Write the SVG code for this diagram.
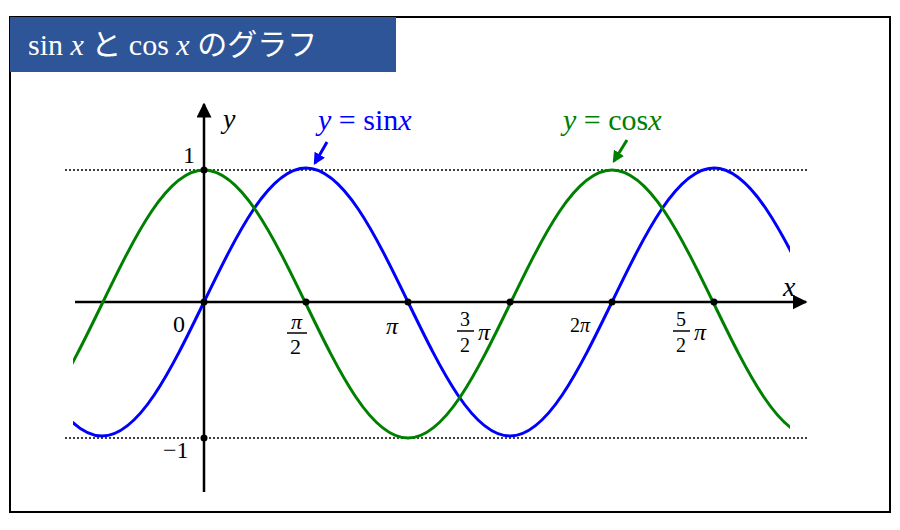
<svg xmlns="http://www.w3.org/2000/svg" width="900" height="530" viewBox="0 0 900 530">
<defs>
<style>
.t{font-family:"Liberation Serif","Noto Sans CJK JP",serif;}
.i{font-style:italic}
.ax{stroke:#000;stroke-width:2.5;fill:none}
.dot{stroke:#000;stroke-width:1.3;stroke-dasharray:2,2;fill:none}
.c{fill:none;stroke-width:3}
</style>
<marker id="ah" viewBox="0 0 10 10" refX="9" refY="5" markerWidth="6" markerHeight="6" orient="auto"><path d="M0,0 L10,5 L0,10 z" fill="#000"/></marker>
<marker id="ab" viewBox="0 0 10 10" refX="8" refY="5" markerWidth="4" markerHeight="4" orient="auto"><path d="M0,0 L10,5 L0,10 z" fill="#0000ff"/></marker>
<marker id="ag" viewBox="0 0 10 10" refX="8" refY="5" markerWidth="4" markerHeight="4" orient="auto"><path d="M0,0 L10,5 L0,10 z" fill="#008000"/></marker>
<clipPath id="cl"><rect x="73" y="100" width="717" height="400"/></clipPath>
</defs>
<rect x="10" y="17" width="880" height="495" fill="#fff" stroke="#000" stroke-width="2"/>
<g id="title">
<rect x="10" y="17" width="386" height="55" fill="#2e5597"/>
<text x="28" y="55" class="t" font-size="30" fill="#fff">sin <tspan class="i">x</tspan> と cos <tspan class="i">x</tspan> のグラフ</text>
</g>
<g id="guides">
<line x1="65" y1="170" x2="808" y2="170" class="dot"/>
<line x1="65" y1="438" x2="808" y2="438" class="dot"/>
</g>
<g id="axes">
<line x1="75" y1="302" x2="806" y2="302" class="ax" marker-end="url(#ah)"/>
<line x1="204" y1="492" x2="204" y2="104" class="ax" marker-end="url(#ah)"/>
</g>
<g id="curves" clip-path="url(#cl)">
<path class="c" stroke="#0000ff" d="M0,302 c33.3,68.6 65.1,134 102,134 c36.9,0 68.7,-65.4 102,-134 c33.3,-68.6 65.1,-134 102,-134 c36.9,0 68.7,65.4 102,134 c33.3,68.6 65.1,134 102,134 c36.9,0 68.7,-65.4 102,-134 c33.3,-68.6 65.1,-134 102,-134 c36.9,0 68.7,65.4 102,134"/>
<path class="c" stroke="#008000" d="M0,438 c36.9,0 68.7,-65.4 102,-134 c33.3,-68.6 65.1,-134 102,-134 c36.9,0 68.7,65.4 102,134 c33.3,68.6 65.1,134 102,134 c36.9,0 68.7,-65.4 102,-134 c33.3,-68.6 65.1,-134 102,-134 c36.9,0 68.7,65.4 102,134 c33.3,68.6 65.1,134 102,134"/>
</g>
<g id="points" fill="#000">
<circle cx="204" cy="170" r="3.5"/><circle cx="204" cy="438" r="3.5"/><circle cx="204" cy="302" r="3.5"/>
<circle cx="306" cy="302" r="3.5"/><circle cx="408" cy="302" r="3.5"/><circle cx="510" cy="302" r="3.5"/>
<circle cx="612" cy="302" r="3.5"/><circle cx="714" cy="302" r="3.5"/>
</g>
<g id="labels" class="t" font-size="24">
<text x="223" y="128" class="i" font-size="28">y</text>
<text x="783" y="296" class="i" font-size="28">x</text>
<text x="183" y="163">1</text>
<text x="163" y="458">−1</text>
<text x="173" y="332">0</text>
<text x="291" y="329" class="i" font-size="22">π</text>
<line x1="287" y1="333" x2="307" y2="333" stroke="#000" stroke-width="1.5"/>
<text x="290" y="354" font-size="22">2</text>
<text x="386" y="334" class="i">π</text>
<text x="460" y="326" font-size="20">3</text>
<line x1="457" y1="331" x2="474" y2="331" stroke="#000" stroke-width="1.5"/>
<text x="460" y="352" font-size="20">2</text>
<text x="478" y="340" class="i">π</text>
<text x="570" y="332" font-size="20">2<tspan class="i">π</tspan></text>
<text x="676" y="326" font-size="20">5</text>
<line x1="673" y1="331" x2="690" y2="331" stroke="#000" stroke-width="1.5"/>
<text x="676" y="352" font-size="20">2</text>
<text x="694" y="340" class="i">π</text>
</g>
<g id="sinlabel">
<text x="318" y="130" class="t" font-size="30" fill="#0000ff"><tspan class="i">y</tspan> = sin<tspan class="i">x</tspan></text>
<line x1="327" y1="142" x2="315" y2="163" stroke="#0000ff" stroke-width="3" marker-end="url(#ab)"/>
</g>
<g id="coslabel">
<text x="563" y="130" class="t" font-size="30" fill="#008000"><tspan class="i">y</tspan> = cos<tspan class="i">x</tspan></text>
<line x1="627" y1="140" x2="614" y2="161" stroke="#008000" stroke-width="3" marker-end="url(#ag)"/>
</g>
</svg>
